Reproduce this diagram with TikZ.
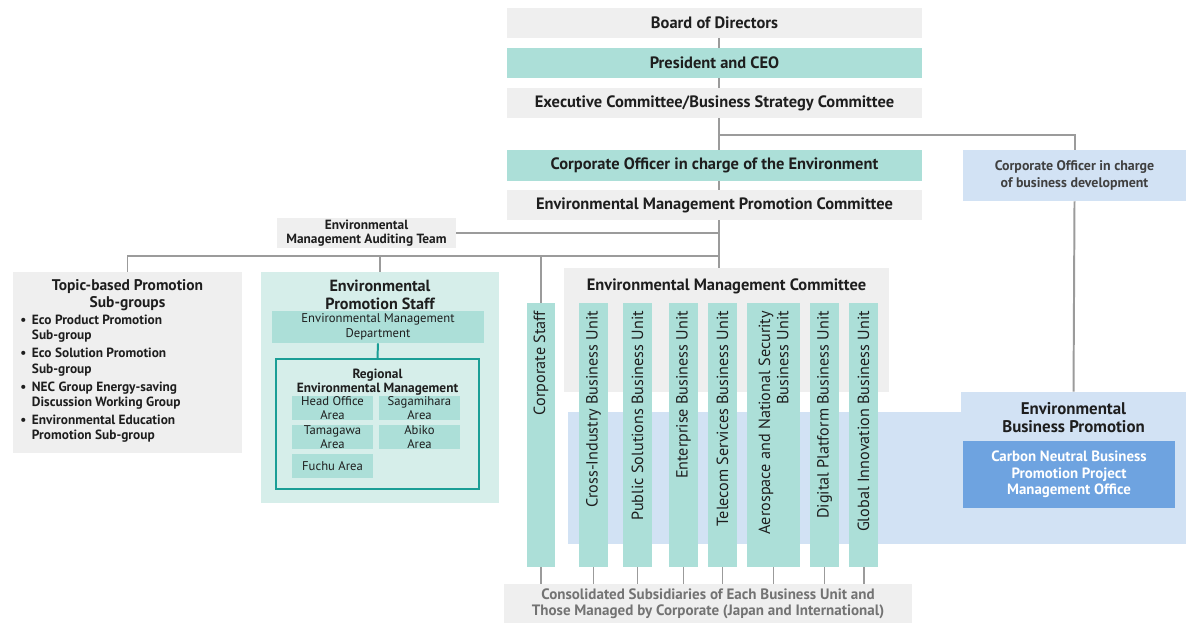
\documentclass[tikz,border=0pt]{standalone}
\usepackage{fontspec}
\setmainfont{PT Sans}
\usetikzlibrary{fit,positioning}
\definecolor{boxgray}{HTML}{EFEFEF}
\definecolor{teal1}{HTML}{ACDFD8}
\definecolor{teal2}{HTML}{D6EEEA}
\definecolor{tealline}{HTML}{1A9E96}
\definecolor{blue1}{HTML}{D2E2F4}
\definecolor{blue2}{HTML}{6EA3E0}
\definecolor{linegray}{HTML}{9B9B9B}
\definecolor{ink}{HTML}{1E1E1E}
\tikzstyle{graybox} = [fill=boxgray, inner sep=0pt]
\tikzstyle{tealbox} = [fill=teal1, inner sep=0pt]
\tikzstyle{bluebox} = [fill=blue1, inner sep=0pt]
\tikzstyle{boxtext} = [inner sep=0pt, align=center, text=ink,
font=\bfseries\fontsize{11.7}{13}\selectfont]
\tikzstyle{plaintext} = [boxtext, font=\fontsize{9}{10.7}\selectfont]
\tikzstyle{bar} = [fill=teal1, inner sep=0pt]
\tikzstyle{bartext} = [rotate=90, inner sep=0pt, align=right, text=ink,
font=\fontsize{11.5}{13}\selectfont]
\tikzstyle{title} = [boxtext, font=\bfseries\fontsize{11}{11.5}\selectfont]
\tikzstyle{bigtitle} = [boxtext, font=\bfseries\fontsize{12}{12.8}\selectfont]
\tikzstyle{smallbold} = [boxtext, font=\bfseries\fontsize{9.5}{10}\selectfont]
\tikzstyle{areatext} = [boxtext, font=\fontsize{9}{10}\selectfont]
\tikzstyle{conn} = [draw=linegray, line width=1.4pt]

\begin{document}
\begin{tikzpicture}[x=0.025cm, y=-0.025cm]
\useasboundingbox (0,0) rectangle (1200,635);

% main chain
\node[graybox, fit={(507,8) (922,38)}, label={[boxtext]center:Board of Directors}] (bod) {};
\node[tealbox, fit={(507,48) (922,78)}, label={[boxtext]center:President and CEO}] (ceo) {};
\node[graybox, fit={(507,88) (922,118)}, label={[boxtext]center:Executive Committee/Business Strategy Committee}] (exec) {};
\node[tealbox, fit={(507,150) (922,181)}, label={[boxtext]center:Corporate Officer in charge of the Environment}] (coe) {};
\node[graybox, fit={(507,190) (922,220)}, label={[boxtext]center:Environmental Management Promotion Committee}] (epc) {};
\node[bluebox, fit={(963,150) (1186,201)}, label={[boxtext, text=ink!85, font=\bfseries\fontsize{9.9}{12.1}\selectfont]center:{Corporate Officer in charge\\of business development}}] (cobd) {};
\node[graybox, fit={(277,218) (456,248)}, label={[smallbold]center:{Environmental\\Management Auditing Team}}] (audit) {};

% topic-based sub-groups
\node[graybox, fit={(13,272) (242,453)}] (topic) {};
\node[title, below=0.2cm of topic.north] (topictitle) {Topic-based Promotion\\Sub-groups};
\node[inner sep=0pt, anchor=north west, text=ink, font=\bfseries\fontsize{9.5}{10.7}\selectfont] (topiclist) at (20,314) {%
\begin{tabular}{@{}l@{\hspace{4pt}}l@{}}
\textbullet & Eco Product Promotion\\ & Sub-group\\[2.2pt]
\textbullet & Eco Solution Promotion\\ & Sub-group\\[2.2pt]
\textbullet & NEC Group Energy-saving\\ & Discussion Working Group\\[2.2pt]
\textbullet & Environmental Education\\ & Promotion Sub-group
\end{tabular}};

% environmental promotion staff
\node[fill=teal2, inner sep=0pt, fit={(261,272) (499,503)}] (eps) {};
\node[bigtitle, font=\bfseries\fontsize{11.5}{13}\selectfont, below=0.2cm of eps.north] (epstitle) {Environmental\\Promotion Staff};
\node[tealbox, fit={(272,311) (484,343)}, label={[plaintext]center:{Environmental Management\\Department}}] (dept) {};
\node[fill=teal2, draw=tealline, line width=1.4pt, inner sep=0pt, fit={(276,359) (479,489)}] (region) {};
\node[smallbold, below=0.26cm of region.north] (regiontitle) {Regional\\Environmental Management};
\node[tealbox, fit={(292,396) (373,420)}, label={[areatext]center:{Head Office\\Area}}] (hoa) {};
\node[tealbox, fit={(379,396) (460,420)}, label={[areatext]center:{Sagamihara\\Area}}] (sga) {};
\node[tealbox, fit={(292,425) (373,449)}, label={[areatext]center:{Tamagawa\\Area}}] (tga) {};
\node[tealbox, fit={(379,425) (460,449)}, label={[areatext]center:{Abiko\\Area}}] (aba) {};
\node[tealbox, fit={(292,454) (373,478)}, label={[areatext]center:{Fuchu Area}}] (fca) {};

% committee and business promotion
\node[graybox, fit={(564,268) (889,392)}] (emc) {};
\node[boxtext, below=0.27cm of emc.north] (emctitle) {Environmental Management Committee};
\node[bluebox, fit={(568,412) (1186,544)}] (ebparea) {};
\node[bluebox, fit={(961,392) (1186,544)}] (ebp) {};
\node[bigtitle, below=0.27cm of ebp.north] (ebptitle) {Environmental\\Business Promotion};
\node[fill=blue2, inner sep=0pt, fit={(963,441) (1175,508)}, label={[boxtext, text=white, font=\bfseries\fontsize{10.6}{11.7}\selectfont]center:{Carbon Neutral Business\\Promotion Project\\Management Office}}] (cnb) {};

% business units
\node[bar, fit={(527,303) (555,567)}] (cs) {};
\node[bar, fit={(579,303) (608,567)}] (ciu) {};
\node[bar, fit={(623,303) (652,567)}] (psu) {};
\node[bar, fit={(669,303) (698,567)}] (ebu) {};
\node[bar, fit={(708,303) (737,567)}] (tsu) {};
\node[bar, fit={(747,303) (800,567)}] (asu) {};
\node[bar, fit={(810,303) (839,567)}] (dpu) {};
\node[bar, fit={(849,303) (878,567)}] (giu) {};
\node[bartext, anchor=east] at ([yshift=-0.2cm]cs.north) {Corporate Staff};
\node[bartext, anchor=east] at ([yshift=-0.2cm]ciu.north) {Cross-Industry Business Unit};
\node[bartext, anchor=east] at ([yshift=-0.2cm]psu.north) {Public Solutions Business Unit};
\node[bartext, anchor=east] at ([yshift=-0.2cm]ebu.north) {Enterprise Business Unit};
\node[bartext, anchor=east] at ([yshift=-0.2cm]tsu.north) {Telecom Services Business Unit};
\node[bartext, anchor=east] at ([yshift=-0.2cm]asu.north) {Aerospace and National Security\\Business Unit};
\node[bartext, anchor=east] at ([yshift=-0.2cm]dpu.north) {Digital Platform Business Unit};
\node[bartext, anchor=east] at ([yshift=-0.2cm]giu.north) {Global Innovation Business Unit};

\node[graybox, fit={(504,584) (912,623)}, label={[boxtext, text=black!55, font=\bfseries\fontsize{10.7}{11.4}\selectfont]center:{Consolidated Subsidiaries of Each Business Unit and\\Those Managed by Corporate (Japan and International)}}] (cons) {};

% connectors
\coordinate (spine) at (719,0);
\coordinate (junc) at (719,135);
\coordinate (bus) at (719,256);
\draw[conn] (bod.south -| spine) -- (ceo.north -| spine);
\draw[conn] (ceo.south -| spine) -- (exec.north -| spine);
\draw[conn] (exec.south -| spine) -- (coe.north -| spine);
\draw[conn] (junc) -| (cobd.north);
\draw[conn] (coe.south -| spine) -- (epc.north -| spine);
\draw[conn] (epc.south -| spine) -- (emc.north -| spine);
\draw[conn] (audit.east) -- (audit.east -| spine);
\draw[conn] (bus) -| (topic.north);
\draw[conn] (bus -| eps.north) -- (eps.north);
\draw[conn] (bus -| cs.north) -- (cs.north);
\draw[draw=tealline, line width=1.4pt] (dept.south) -- (region.north);
\draw[conn] (cobd.south) -- (ebp.north);

\draw[conn] (cs.south) -- (cs.south |- cons.north);
\draw[conn] (ciu.south) -- (ciu.south |- cons.north);
\draw[conn] (psu.south) -- (psu.south |- cons.north);
\draw[conn] (ebu.south) -- (ebu.south |- cons.north);
\draw[conn] (tsu.south) -- (tsu.south |- cons.north);
\draw[conn] (asu.south) -- (asu.south |- cons.north);
\draw[conn] (dpu.south) -- (dpu.south |- cons.north);
\draw[conn] (giu.south) -- (giu.south |- cons.north);
\end{tikzpicture}
\end{document}
